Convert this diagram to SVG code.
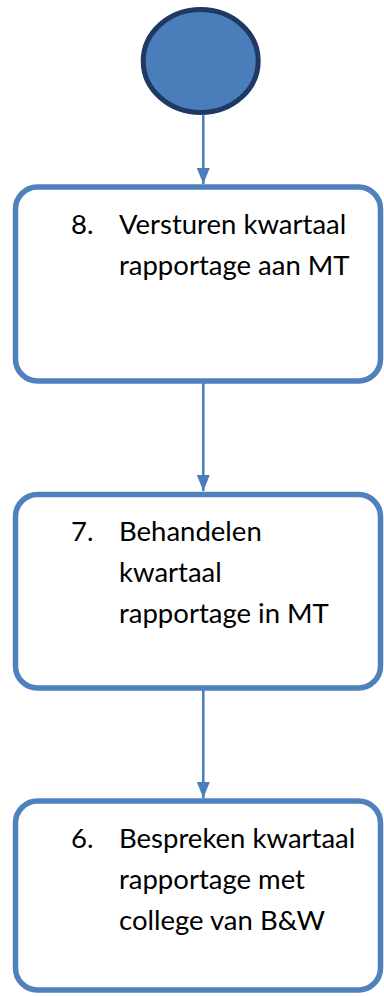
<svg xmlns="http://www.w3.org/2000/svg" width="384" height="996" viewBox="0 0 384 996">
<defs>
<style>
.box{fill:#ffffff;stroke:#4F81BD;stroke-width:5.5}
.t{font-family:Lato,"Open Sans","Liberation Sans",sans-serif;font-size:27.5px;fill:#000000}
.c{stroke:#4A7EBB;stroke-width:2.5;fill:none}
</style>
<marker id="ah" markerUnits="userSpaceOnUse" markerWidth="16" markerHeight="13" refX="16" refY="6.5" orient="auto">
<path d="M0,0 L16,6.5 L0,13 Z" fill="#4A7EBB"/>
</marker>
</defs>
<rect width="384" height="996" fill="#ffffff"/>
<g id="connectors">
<line class="c" x1="203.3" y1="115" x2="203.3" y2="184" marker-end="url(#ah)"/>
<line class="c" x1="203.3" y1="383" x2="203.3" y2="491" marker-end="url(#ah)"/>
<line class="c" x1="203.3" y1="690" x2="203.3" y2="798" marker-end="url(#ah)"/>
</g>
<g id="start">
<ellipse cx="200.7" cy="61" rx="57.5" ry="51.5" fill="#4A7EBB" stroke="#203864" stroke-width="5"/>
</g>
<g id="step8">
<rect class="box" x="15.5" y="187" width="365" height="194" rx="22"/>
<text class="t" x="71" y="234">8.</text>
<text class="t" x="119" y="234">Versturen kwartaal</text>
<text class="t" x="119" y="275">rapportage aan MT</text>
</g>
<g id="step7">
<rect class="box" x="15.5" y="494.5" width="365" height="193.5" rx="22"/>
<text class="t" x="71" y="541">7.</text>
<text class="t" x="119" y="541">Behandelen</text>
<text class="t" x="119" y="582">kwartaal</text>
<text class="t" x="119" y="623">rapportage in MT</text>
</g>
<g id="step6">
<rect class="box" x="15.5" y="801" width="365" height="189" rx="22"/>
<text class="t" x="71" y="848">6.</text>
<text class="t" x="119" y="848">Bespreken kwartaal</text>
<text class="t" x="119" y="889">rapportage met</text>
<text class="t" x="119" y="930">college van B&amp;W</text>
</g>
</svg>
